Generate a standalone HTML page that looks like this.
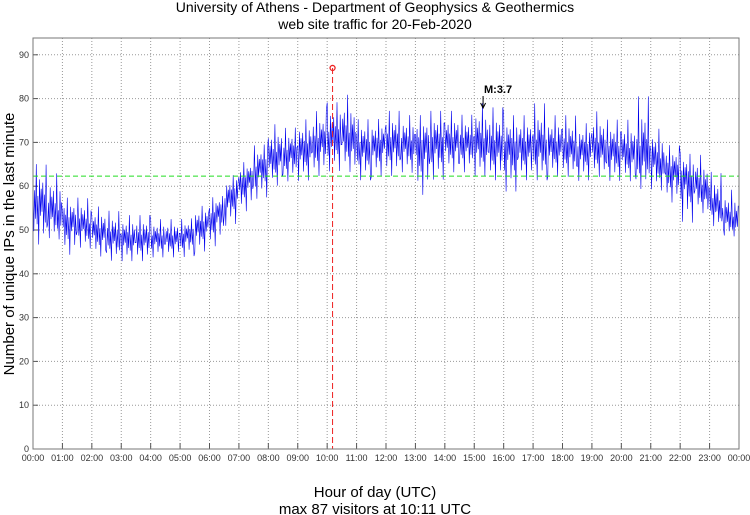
<!DOCTYPE html>
<html><head><meta charset="utf-8"><style>
body{margin:0;background:#fff;}
svg{display:block;font-family:"Liberation Sans",sans-serif;}
</style></head><body>
<svg id="chart" width="750" height="515" viewBox="0 0 750 515">
<text x="375" y="12" text-anchor="middle" font-size="14">University of Athens - Department of Geophysics &amp; Geothermics</text>
<text x="375" y="29" text-anchor="middle" font-size="14">web site traffic for 20-Feb-2020</text>
<g id="grid"></g>
<g id="series"></g>
<g id="overlay"></g>
<rect x="33" y="38" width="706" height="411" fill="none" stroke="#777" stroke-width="1"/>
<text x="375" y="497" text-anchor="middle" font-size="15" font-weight="500">Hour of day (UTC)</text>
<text x="375" y="514" text-anchor="middle" font-size="15">max 87 visitors at 10:11 UTC</text>
<text transform="translate(14,244) rotate(-90)" text-anchor="middle" font-size="15">Number of unique IPs in the last minute</text>
<text x="484" y="93" font-size="11" font-weight="bold">M:3.7</text>
</svg>
<script>
// half-hour bins, 00:00 .. 24:00
const binHours = [0,0.5,1,1.5,2,2.5,3,3.5,4,4.5,5,5.5,6,6.5,7,7.5,8,8.5,9,9.5,10,10.5,11,11.5,12,12.5,13,13.5,14,14.5,15,15.5,16,16.5,17,17.5,18,18.5,19,19.5,20,20.5,21,21.5,22,22.5,23,23.5,24];
const meanVals = [57,55,52,52,50,49,48,48,48,48,48,50,52,56,60,63,66,67,68,69,71,72,69,69,70,70,69,70,70,70,70,69,69,69,69,69,69,68,69,68,68,67,67,64,63,61,57,53,51];
const lowVals  = [45,47,43,45,43,42,42,42,43,43,43,44,45,50,53,56,59,60,60,61,62,62,60,61,61,62,56,60,62,62,61,60,57,60,60,61,61,60,61,60,60,58,58,55,50,53,50,48,47];
const highVals = [66,64,58,58,56,55,54,54,53,53,53,56,58,63,66,70,75,74,76,78,80,82,76,76,78,77,77,78,78,77,80,79,77,77,80,77,77,75,78,76,76,82,74,70,68,68,64,60,55];
const yTicks = [0,10,20,30,40,50,60,70,80,90];
const xTickLabels = ["00:00","01:00","02:00","03:00","04:00","05:00","06:00","07:00","08:00","09:00","10:00","11:00","12:00","13:00","14:00","15:00","16:00","17:00","18:00","19:00","20:00","21:00","22:00","23:00","00:00"];
const meanLine = 62.3;
const peakHour = 10 + 11/60;
const peakValue = 87;
const arrowHour = 15.3;

const NS="http://www.w3.org/2000/svg";
const X0=33,X1=739,Y0=449,YTOP=38;
const xs=h=>X0+(X1-X0)*h/24;
const ys=v=>Y0-v*4.38;
function mk(tag,attrs,parent){const e=document.createElementNS(NS,tag);for(const k in attrs)e.setAttribute(k,attrs[k]);parent.appendChild(e);return e;}
const grid=document.getElementById('grid'),series=document.getElementById('series'),ov=document.getElementById('overlay');
yTicks.forEach(v=>{
  const y=ys(v);
  if(v>0){const l=mk('line',{x1:X0,x2:X1,y1:y,y2:y,stroke:'#999','stroke-dasharray':'1,2'},grid);
  
  }
  const t=mk('text',{x:X0-4,y:y+3,'text-anchor':'end','font-size':'9',fill:'#333'},grid);t.textContent=v;
  
  
  mk('line',{x1:X0,x2:X0+5,y1:y,y2:y,stroke:'#555'},grid);
});
xTickLabels.forEach((s,i)=>{
  const x=xs(i);
  if(i>0&&i<24){const l=mk('line',{x1:x,x2:x,y1:YTOP,y2:Y0,stroke:'#999','stroke-dasharray':'1,2'},grid);
  
  }
  mk('line',{x1:x,x2:x,y1:Y0,y2:Y0-6,stroke:'#555'},grid);
  const t=mk('text',{x:x,y:Y0+12,'text-anchor':'middle','font-size':'9',fill:'#333'},grid);t.textContent=s;
  
  
});
let d='';
for(let i=0;i<binHours.length-1;i++){
  const h0=binHours[i],h1=binHours[i+1];
  const steps=18;
  for(let k=0;k<steps;k++){
    const f=k/steps,h=h0+(h1-h0)*f;
    const m=meanVals[i]+(meanVals[i+1]-meanVals[i])*f;
    const lo=lowVals[i],hi=highVals[i];
    const sw=[0.5,-0.6,0.25,-0.35,0.9,-0.45,0.15,-0.85,0.55,-0.25,0.35,-0.15][(k+i*5)%12];
    const v=sw>0?m+(hi-m)*sw:m+(m-lo)*sw;
    d+=(d?'L':'M')+xs(h).toFixed(1)+','+ys(v).toFixed(1);
  }
}
const p=mk('path',{d:d,fill:'none',stroke:'#0000ee','stroke-width':'0.6'},series);


const ml=mk('line',{x1:X0,x2:X1,y1:ys(meanLine),y2:ys(meanLine),stroke:'#22dd22','stroke-dasharray':'5,3'},ov);


const pl=mk('line',{x1:xs(peakHour),x2:xs(peakHour),y1:ys(peakValue),y2:Y0,stroke:'#ee2222','stroke-dasharray':'6,3'},ov);


const pc=mk('circle',{cx:xs(peakHour),cy:ys(peakValue),r:2.5,fill:'none',stroke:'#ee2222','stroke-width':'1.3'},ov);


const ax=xs(arrowHour);
const ar=mk('path',{d:`M${ax},96V108M${ax-2.5},103L${ax},108L${ax+2.5},103`,stroke:'#000',fill:'none'},ov);


</script>
</body></html>
